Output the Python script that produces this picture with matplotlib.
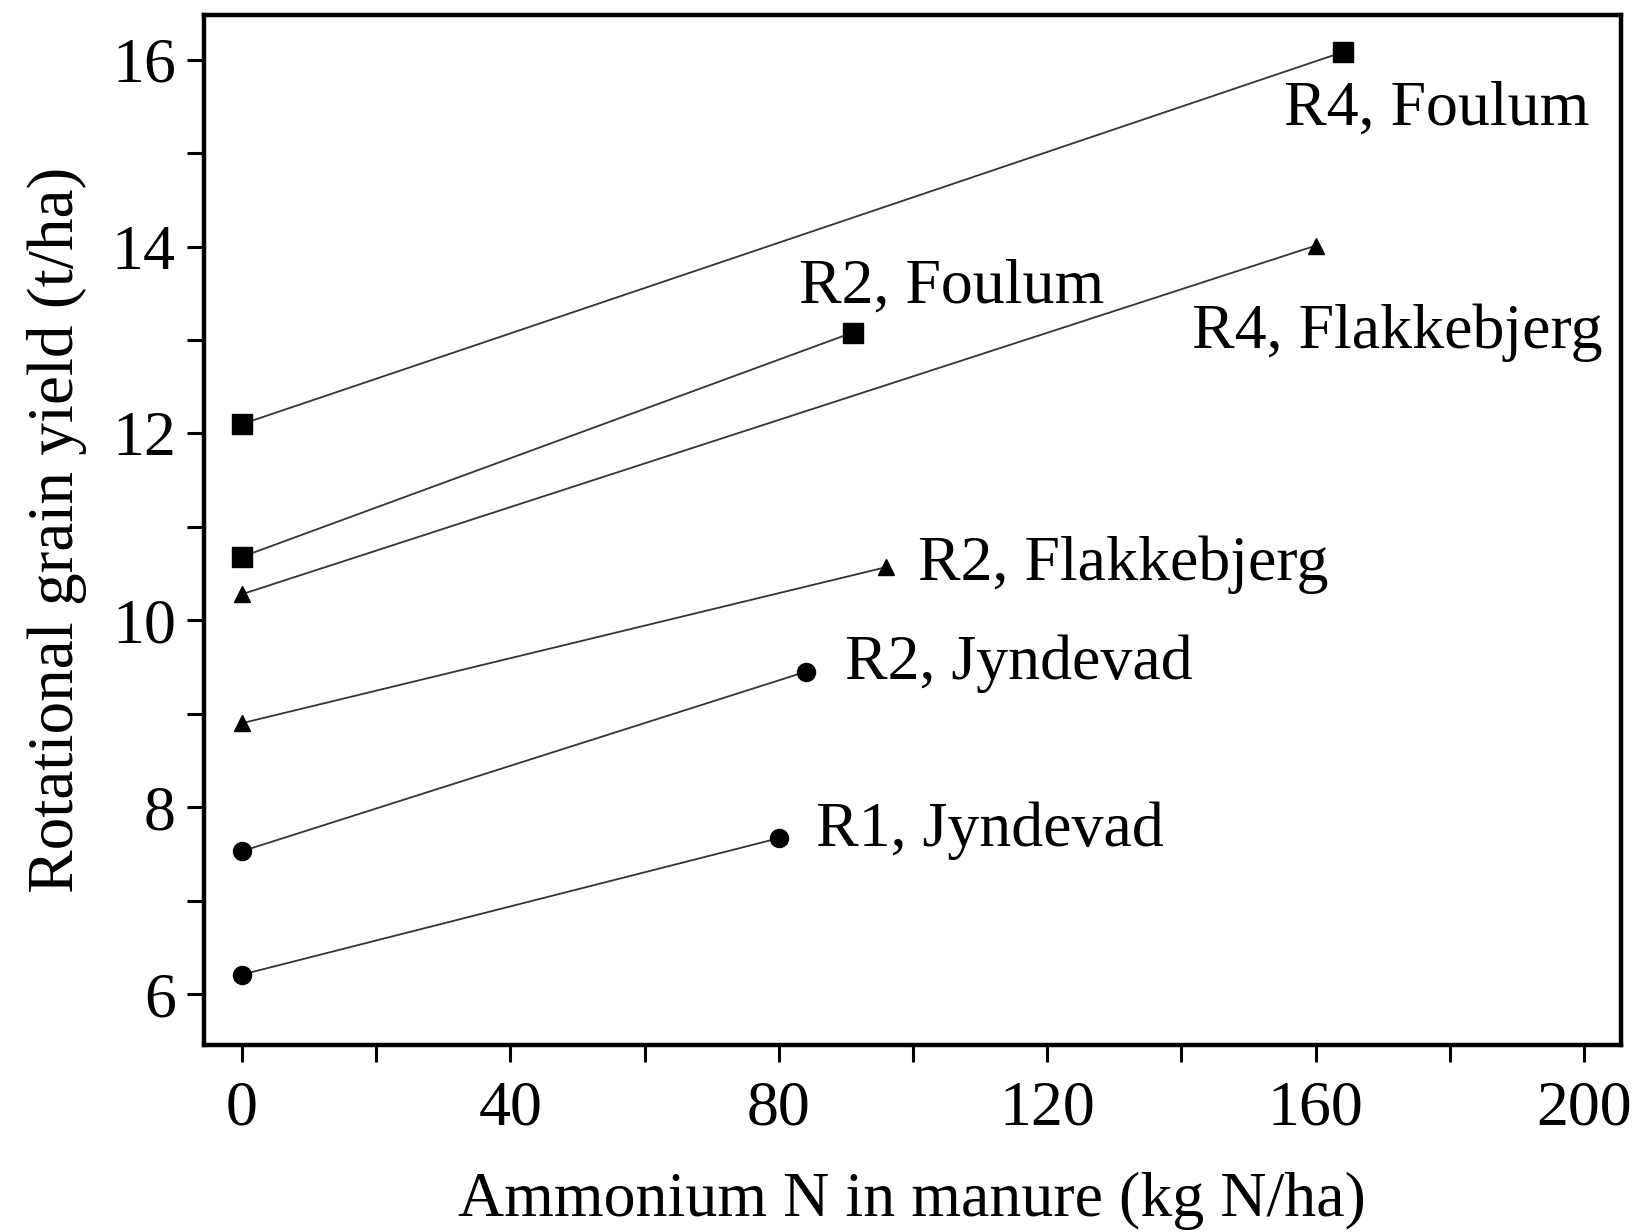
import matplotlib
matplotlib.use('Agg')
import matplotlib.pyplot as plt
from matplotlib.ticker import MultipleLocator

plt.rcParams['font.family'] = ['Liberation Serif', 'DejaVu Serif']

# series: (manure NH4-N, rotational grain yield)
r4_foulum_x = [0, 164]
r4_foulum_y = [12.1, 16.08]
r2_foulum_x = [0, 91]
r2_foulum_y = [10.68, 13.08]
r4_flak_x = [0, 160]
r4_flak_y = [10.28, 14.01]
r2_flak_x = [0, 96]
r2_flak_y = [8.9, 10.57]
r2_jynd_x = [0, 84]
r2_jynd_y = [7.53, 9.45]
r1_jynd_x = [0, 80]
r1_jynd_y = [6.21, 7.67]

labels = ['R4, Foulum', 'R2, Foulum', 'R4, Flakkebjerg',
          'R2, Flakkebjerg', 'R2, Jyndevad', 'R1, Jyndevad']
label_x = [155.3, 83.0, 141.6, 100.8, 89.9, 85.5]
label_y = [15.46, 13.56, 13.08, 10.60, 9.54, 7.75]

fig = plt.figure(figsize=(16.35, 12.32), dpi=100, facecolor='white')
ax = fig.add_axes([0.1245, 0.152, 0.867, 0.836])

series = [
    (r4_foulum_x, r4_foulum_y, 's', 14),
    (r2_foulum_x, r2_foulum_y, 's', 14),
    (r4_flak_x, r4_flak_y, '^', 12),
    (r2_flak_x, r2_flak_y, '^', 12),
    (r2_jynd_x, r2_jynd_y, 'o', 13),
    (r1_jynd_x, r1_jynd_y, 'o', 13),
]
for xs, ys, m, ms in series:
    ax.plot(xs, ys, color='#333333', lw=1.3, marker=m, markersize=ms,
            markerfacecolor='black', markeredgecolor='black')

for t, x, y in zip(labels, label_x, label_y):
    ax.text(x, y, t, fontsize=46, ha='left', va='center')

ax.set_xlim(-5.7, 205.5)
ax.set_ylim(5.46, 16.48)
ax.xaxis.set_major_locator(MultipleLocator(40))
ax.xaxis.set_minor_locator(MultipleLocator(20))
ax.yaxis.set_major_locator(MultipleLocator(2))
ax.yaxis.set_minor_locator(MultipleLocator(1))

for side in ['left', 'right', 'top', 'bottom']:
    ax.spines[side].set_linewidth(3.2)
ax.tick_params(axis='both', which='both', direction='out', length=12, width=2.2)
ax.tick_params(axis='x', which='major', labelsize=46, pad=14)
ax.tick_params(axis='y', which='major', labelsize=46, pad=8)

ax.set_xlabel('Ammonium N in manure (kg N/ha)', fontsize=46, labelpad=24)
ax.set_ylabel('Rotational grain yield (t/ha)', fontsize=47, labelpad=18)

fig.savefig('out.png', dpi=100, facecolor='white')
